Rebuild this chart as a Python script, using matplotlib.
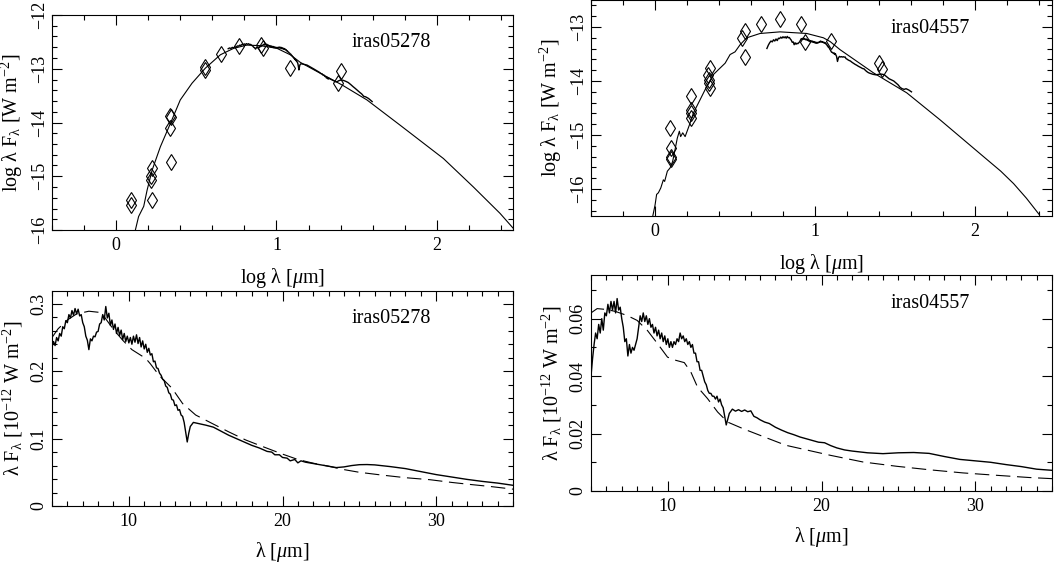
import numpy as np
import matplotlib.pyplot as plt
from matplotlib.ticker import MultipleLocator

plt.rcParams['font.family'] = ['Liberation Serif', 'DejaVu Serif']
plt.rcParams['mathtext.fontset'] = 'custom'
plt.rcParams['mathtext.rm'] = 'Liberation Serif'
plt.rcParams['mathtext.it'] = 'Liberation Serif:italic'
plt.rcParams['font.size'] = 14.5
plt.rcParams['xtick.labelsize'] = 13
plt.rcParams['ytick.labelsize'] = 13

# --- iras05278: SED model (log lambda [um], log lambda F_lambda [W m^-2])
m05_logl = [0.12, 0.14, 0.172, 0.193, 0.224, 0.276, 0.338, 0.40, 0.473, 0.556,
            0.65, 0.733, 0.816, 0.899, 1.003, 1.086, 1.148, 1.252, 1.408, 1.564,
            1.771, 2.041, 2.228, 2.394, 2.477, 2.49]
m05_logf = [-16.0, -15.75, -15.56, -15.26, -14.89, -14.45, -14.02, -13.58, -13.27, -12.99,
            -12.74, -12.62, -12.56, -12.57, -12.62, -12.74, -12.88, -13.05, -13.30, -13.58,
            -14.05, -14.67, -15.2, -15.69, -15.97, -16.03]
# photometry
p05_logl = [0.095, 0.095, 0.225, 0.22, 0.22, 0.226, 0.335, 0.345, 0.335, 0.34,
            0.556, 0.556, 0.655, 0.764, 0.902, 0.919, 1.082, 1.385, 1.40]
p05_logf = [-15.45, -15.53, -14.85, -15.0, -15.07, -15.45, -13.88, -13.9, -14.1, -14.74,
            -12.96, -13.03, -12.73, -12.58, -12.56, -12.62, -12.99, -13.27, -13.04]

# --- iras04557: SED model
m04_logl = [-0.014, 0.0, 0.010, 0.021, 0.036, 0.052, 0.060, 0.077, 0.094, 0.110,
            0.125, 0.139, 0.152, 0.160, 0.173, 0.188, 0.219, 0.240, 0.281, 0.323,
            0.365, 0.396, 0.438, 0.469, 0.50, 0.531, 0.573, 0.656, 0.781, 0.948,
            1.052, 1.094, 1.156, 1.365, 1.573, 1.781, 2.052, 2.16, 2.24, 2.32, 2.402]
m04_logf = [-16.5, -16.3, -16.1, -16.07, -15.98, -15.83, -15.86, -15.67, -15.61, -15.49,
            -15.27, -15.06, -14.93, -15.03, -14.96, -15.03, -14.78, -14.59, -14.35, -14.10,
            -13.88, -13.79, -13.67, -13.51, -13.46, -13.33, -13.2, -13.12, -13.09, -13.12,
            -13.2, -13.27, -13.42, -13.85, -14.22, -14.72, -15.40, -15.67, -15.90, -16.17, -16.48]
p04_logl = [0.094, 0.098, 0.098, 0.100, 0.223, 0.224, 0.225, 0.226, 0.333, 0.336,
            0.338, 0.341, 0.344, 0.545, 0.563, 0.563, 0.665, 0.78, 0.915, 0.935,
            1.10, 1.40, 1.415]
p04_logf = [-14.87, -15.24, -15.4, -15.44, -14.28, -14.53, -14.6, -14.69, -13.88, -13.98,
            -14.04, -14.13, -13.76, -13.2, -13.07, -13.55, -12.95, -12.86, -12.94, -13.27,
            -13.25, -13.67, -13.77]

# --- iras05278: spectrum (lambda [um], lambda F_lambda [1e-12 W m^-2])
s05_wl = [5.0, 5.1, 5.2, 5.3, 5.4, 5.5, 5.6, 5.7, 5.8, 5.9,
          6.0, 6.1, 6.2, 6.3, 6.4, 6.5, 6.6, 6.7, 6.8, 6.9,
          7.0, 7.1, 7.2, 7.3, 7.4, 7.5, 7.6, 7.7, 7.8, 7.9,
          8.0, 8.1, 8.2, 8.3, 8.4, 8.5, 8.6, 8.7, 8.8, 8.9,
          9.0, 9.1, 9.2, 9.3, 9.4, 9.5, 9.6, 9.7, 9.8, 9.9,
          10.0, 10.1, 10.2, 10.3, 10.4, 10.5, 10.6, 10.7, 10.8, 10.9,
          11.0, 11.1, 11.2, 11.3, 11.4, 11.5, 11.6, 11.7, 11.8, 11.9,
          12.0, 12.1, 12.2, 12.3, 12.4, 12.5, 12.6, 12.7, 12.8, 12.9,
          13.0, 13.1, 13.2, 13.3, 13.4, 13.5, 13.6, 13.7, 13.8, 13.9,
          14.0, 14.1, 14.2, 14.4, 15.0, 15.5, 16.0, 16.5, 17.0, 17.5,
          18.0, 18.5, 19.0, 19.3, 19.5, 19.8, 20.0, 20.3, 20.5, 20.8,
          21.0, 21.2, 21.5, 22.0, 22.5, 23.0, 23.5, 24.0, 24.5, 25.0,
          25.5, 26.0, 27.0, 28.0, 29.0, 30.0, 31.0, 32.0, 33.0, 34.0,
          35.0, 36.0, 37.5, 39.5]
s05_fl = [0.236, 0.244, 0.238, 0.250, 0.245, 0.256, 0.252, 0.266, 0.263, 0.275,
          0.272, 0.284, 0.279, 0.290, 0.283, 0.293, 0.285, 0.292, 0.282, 0.284,
          0.272, 0.266, 0.252, 0.246, 0.232, 0.248, 0.245, 0.252, 0.251, 0.258,
          0.259, 0.270, 0.272, 0.284, 0.276, 0.296, 0.279, 0.286, 0.268, 0.276,
          0.262, 0.270, 0.256, 0.265, 0.253, 0.261, 0.247, 0.256, 0.244, 0.252,
          0.242, 0.250, 0.240, 0.252, 0.243, 0.254, 0.241, 0.250, 0.236, 0.245,
          0.233, 0.240, 0.228, 0.234, 0.224, 0.226, 0.214, 0.215, 0.205, 0.204,
          0.197, 0.194, 0.188, 0.186, 0.178, 0.176, 0.168, 0.166, 0.158, 0.157,
          0.149, 0.150, 0.142, 0.143, 0.135, 0.133, 0.124, 0.110, 0.095, 0.108,
          0.118, 0.121, 0.124, 0.123, 0.120, 0.117, 0.111, 0.105, 0.100, 0.095,
          0.090, 0.086, 0.081, 0.080, 0.076, 0.076, 0.072, 0.071, 0.067, 0.069,
          0.064, 0.067, 0.065, 0.063, 0.061, 0.059, 0.057, 0.058, 0.060, 0.0613,
          0.0615, 0.061, 0.0585, 0.0555, 0.051, 0.0466, 0.043, 0.0395, 0.0365, 0.034,
          0.0307, 0.030, 0.028, 0.0245]
# model (dashed)
d05_wl = [5.0, 5.4, 6.0, 6.6, 7.4, 8.2, 9.0, 9.6, 10.2, 11.1,
          11.4, 11.6, 12.0, 12.4, 12.8, 13.5, 14.35, 15.4, 16.5, 17.6,
          18.5, 20.0, 21.0, 22.0, 23.0, 24.0, 25.0, 26.5, 28.0, 29.6,
          31.0, 32.2, 33.5, 35.0]
d05_fl = [0.250, 0.263, 0.276, 0.285, 0.289, 0.287, 0.262, 0.246, 0.232, 0.219,
          0.211, 0.205, 0.193, 0.184, 0.175, 0.152, 0.135, 0.1227, 0.110, 0.098,
          0.090, 0.077, 0.069, 0.0635, 0.059, 0.054, 0.050, 0.0458, 0.042, 0.039,
          0.035, 0.032, 0.029, 0.025]

# --- iras04557: spectrum
s04_wl = [5.0, 5.1, 5.2, 5.3, 5.4, 5.5, 5.6, 5.7, 5.8, 5.9,
          6.0, 6.1, 6.2, 6.3, 6.4, 6.5, 6.6, 6.7, 6.8, 6.9,
          7.0, 7.1, 7.2, 7.3, 7.4, 7.5, 7.6, 7.7, 7.8, 7.9,
          8.0, 8.1, 8.2, 8.3, 8.4, 8.5, 8.6, 8.7, 8.8, 8.9,
          9.0, 9.1, 9.2, 9.3, 9.4, 9.5, 9.6, 9.7, 9.8, 9.9,
          10.0, 10.1, 10.2, 10.3, 10.4, 10.5, 10.6, 10.7, 10.8, 10.9,
          11.0, 11.1, 11.2, 11.3, 11.4, 11.5, 11.6, 11.7, 11.8, 11.9,
          12.0, 12.1, 12.2, 12.3, 12.4, 12.5, 12.6, 12.7, 12.8, 12.9,
          13.0, 13.1, 13.2, 13.3, 13.4, 13.5, 13.6, 13.7, 13.8, 13.9,
          14.0, 14.2, 14.4, 14.6, 14.8, 15.0, 15.2, 15.4, 15.6, 15.8,
          16.0, 16.3, 16.6, 17.0, 17.4, 17.8, 18.2, 18.6, 19.0, 19.4,
          19.8, 20.2, 20.6, 21.0, 21.5, 22.0, 22.5, 23.0, 24.0, 25.0,
          26.0, 27.0, 28.0, 29.0, 30.0, 31.0, 32.0, 33.0, 34.0, 35.0,
          36.0, 37.0, 38.5, 40.0]
s04_fl = [0.040, 0.046, 0.051, 0.055, 0.053, 0.058, 0.055, 0.060, 0.056, 0.062,
          0.061, 0.065, 0.062, 0.066, 0.063, 0.066, 0.062, 0.067, 0.063, 0.064,
          0.060, 0.057, 0.052, 0.053, 0.047, 0.051, 0.048, 0.050, 0.049, 0.051,
          0.053, 0.057, 0.061, 0.059, 0.062, 0.059, 0.061, 0.058, 0.060, 0.057,
          0.058, 0.055, 0.057, 0.054, 0.056, 0.053, 0.055, 0.052, 0.054, 0.051,
          0.053, 0.050, 0.052, 0.050, 0.052, 0.051, 0.053, 0.052, 0.055, 0.053,
          0.054, 0.052, 0.053, 0.051, 0.052, 0.050, 0.051, 0.048, 0.048, 0.045,
          0.045, 0.042, 0.042, 0.040, 0.038, 0.037, 0.035, 0.034, 0.034, 0.033,
          0.033, 0.032, 0.033, 0.031, 0.032, 0.030, 0.029, 0.026, 0.023, 0.025,
          0.027, 0.0285, 0.0278, 0.0283, 0.0277, 0.0282, 0.0276, 0.0279, 0.0260, 0.0255,
          0.0248, 0.0240, 0.0235, 0.0222, 0.0212, 0.0203, 0.0196, 0.0188, 0.0182, 0.0176,
          0.0170, 0.0168, 0.0158, 0.0150, 0.0143, 0.0139, 0.0136, 0.0133, 0.0130, 0.0133,
          0.0134, 0.0131, 0.0120, 0.0110, 0.0105, 0.0100, 0.0092, 0.0085, 0.0076, 0.0072,
          0.0070, 0.0072, 0.0068, 0.0063]
d04_wl = [5.0, 5.4, 6.0, 6.6, 7.35, 8.0, 8.67, 9.33, 9.98, 10.52,
          11.07, 11.5, 11.93, 12.58, 13.24, 13.89, 14.98, 16.28, 17.69, 20.6,
          22.7, 24.9, 27.0, 29.2, 31.3, 33.5, 35.0]
d04_fl = [0.062, 0.0635, 0.0632, 0.0625, 0.0611, 0.0594, 0.0559, 0.0513, 0.0466, 0.0455,
          0.0447, 0.0414, 0.0362, 0.0322, 0.0275, 0.024, 0.0215, 0.0188, 0.0159, 0.0124,
          0.0101, 0.0086, 0.0074, 0.0063, 0.0055, 0.0047, 0.0043]

W, H = 1061, 562
fig = plt.figure(figsize=(W / 100, H / 100), dpi=100)

def box(l, t, r, b):
    return [l / W, 1 - b / H, (r - l) / W, (b - t) / H]

ax_tl = fig.add_axes(box(52, 15, 513, 230))
ax_tr = fig.add_axes(box(591, 0, 1052, 216))
ax_bl = fig.add_axes(box(52, 291, 513, 506))
ax_br = fig.add_axes(box(591, 275, 1052, 491))

def style(ax, xmaj, xmin, ymaj, ymin):
    ax.xaxis.set_major_locator(MultipleLocator(xmaj))
    ax.xaxis.set_minor_locator(MultipleLocator(xmin))
    ax.yaxis.set_major_locator(MultipleLocator(ymaj))
    ax.yaxis.set_minor_locator(MultipleLocator(ymin))
    ax.tick_params(which='both', direction='in', top=True, right=True, width=0.8)
    ax.tick_params(which='major', length=7)
    ax.tick_params(which='minor', length=3.5)
    ax.tick_params(axis='x', pad=5)
    ax.tick_params(axis='y', pad=3, labelrotation=90)
    for s in ax.spines.values():
        s.set_linewidth(0.8)

lw = 0.8
spec_kw = dict(color='k', lw=1.0)
mod_kw = dict(color='k', lw=lw)
dash_kw = dict(color='k', lw=lw, dashes=(13, 6))
pt_kw = dict(ls='none', marker='d', ms=8, mfc='none', mec='k', mew=0.8)

# top left
ax_tl.plot(m05_logl, m05_logf, **mod_kw)
ax_tl.plot(np.log10(s05_wl), np.log10(s05_fl) - 12, **spec_kw)
ax_tl.plot(p05_logl, p05_logf, **pt_kw)
ax_tl.set_xlim(-0.4, 2.475)
ax_tl.set_ylim(-16, -12)
style(ax_tl, 1, 0.2, 1, 0.2)

# top right
ax_tr.plot(m04_logl, m04_logf, **mod_kw)
ax_tr.plot(np.log10(s04_wl), np.log10(s04_fl) - 12, **spec_kw)
ax_tr.plot(p04_logl, p04_logf, **pt_kw)
ax_tr.set_xlim(-0.4, 2.48)
ax_tr.set_ylim(-16.5, -12.5)
style(ax_tr, 1, 0.2, 1, 0.2)

# bottom left
ax_bl.plot(s05_wl, s05_fl, **spec_kw)
ax_bl.plot(d05_wl, d05_fl, **dash_kw)
ax_bl.set_xlim(5, 35)
ax_bl.set_ylim(0, 0.319)
style(ax_bl, 10, 1, 0.1, 0.02)
ax_bl.set_yticks([0, 0.1, 0.2, 0.3], ['0', '0.1', '0.2', '0.3'])

# bottom right
ax_br.plot(s04_wl, s04_fl, **spec_kw)
ax_br.plot(d04_wl, d04_fl, **dash_kw)
ax_br.set_xlim(5, 35)
ax_br.set_ylim(0, 0.0752)
style(ax_br, 10, 1, 0.02, 0.01)
ax_br.set_yticks([0, 0.02, 0.04, 0.06], ['0', '0.02', '0.04', '0.06'])

for ax in (ax_tl, ax_tr, ax_bl, ax_br):
    for lab in ax.get_yticklabels():
        lab.set_va('center')

for ax, name in ((ax_tl, 'iras05278'), (ax_tr, 'iras04557'),
                 (ax_bl, 'iras05278'), (ax_br, 'iras04557')):
    ax.text(0.65, 0.87, name, transform=ax.transAxes, ha='left', va='center')

for ax in (ax_tl, ax_tr):
    ax.set_xlabel(r'log $\mathrm{\lambda}$ [$\mu$m]', labelpad=9)
    ax.set_ylabel(r'log $\mathrm{\lambda}$ F$_\mathrm{\lambda}$ [W m$^{-2}$]', labelpad=4)
for ax in (ax_bl, ax_br):
    ax.set_xlabel(r'$\mathrm{\lambda}$ [$\mu$m]', labelpad=7)
    ax.set_ylabel(r'$\mathrm{\lambda}$ F$_\mathrm{\lambda}$ [10$^{-12}$ W m$^{-2}$]', labelpad=4)

fig.savefig('out.png', dpi=100)
